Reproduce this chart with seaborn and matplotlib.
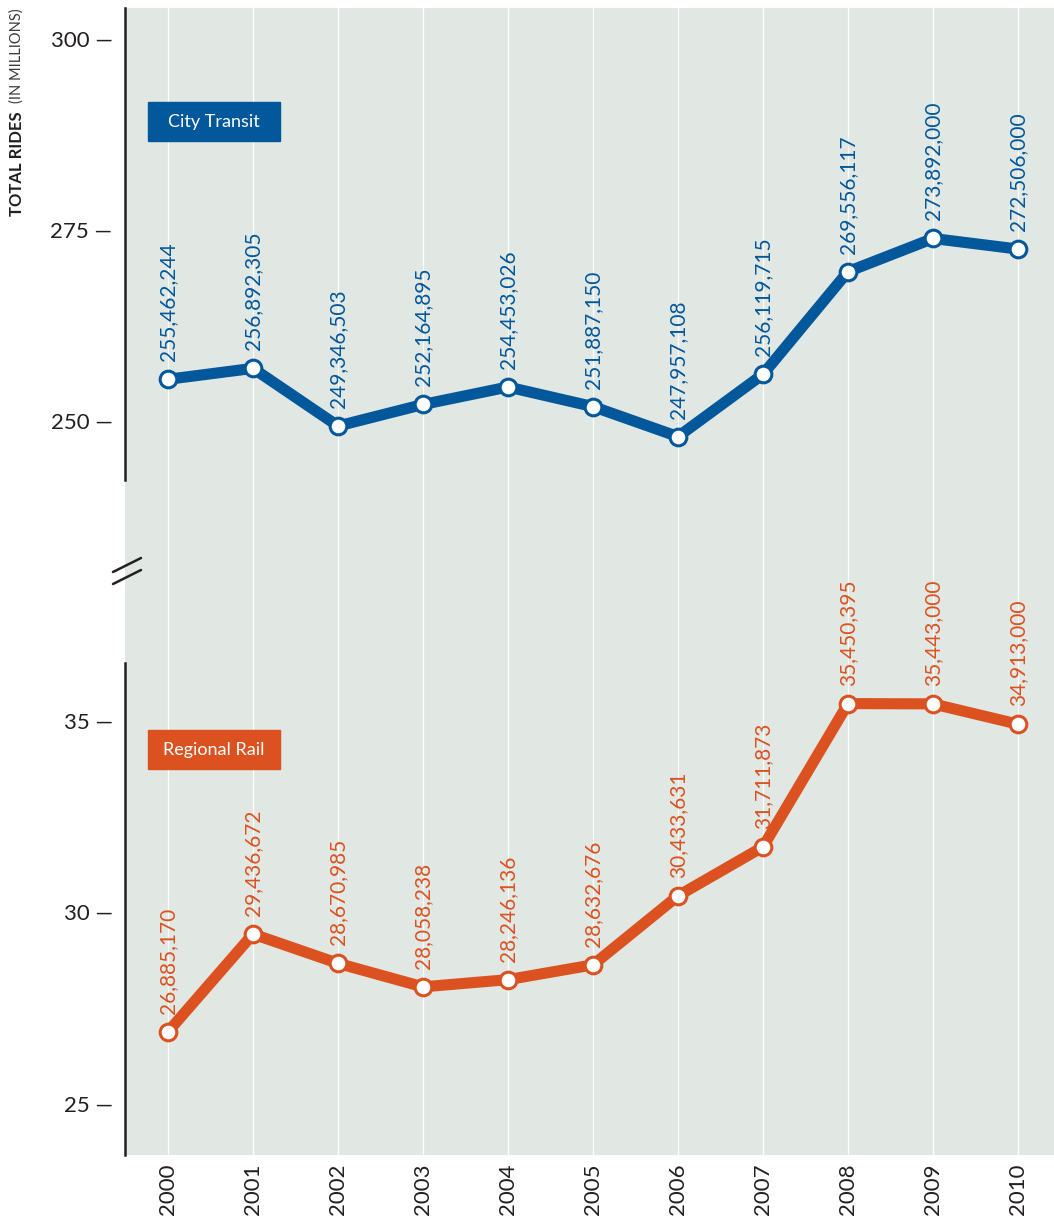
import matplotlib
matplotlib.use("Agg")
import matplotlib.pyplot as plt
from matplotlib.patches import Rectangle
from matplotlib.lines import Line2D
import seaborn as sns
import pandas as pd

# Annual ridership, 2000-2010
years = [2000, 2001, 2002, 2003, 2004, 2005, 2006, 2007, 2008, 2009, 2010]
city_transit = [255462244, 256892305, 249346503, 252164895, 254453026, 251887150,
                247957108, 256119715, 269556117, 273892000, 272506000]
regional_rail = [26885170, 29436672, 28670985, 28058238, 28246136, 28632676,
                 30433631, 31711873, 35450395, 35443000, 34913000]
top_ticks = [250, 275, 300]
bottom_ticks = [25, 30, 35]
series_names = ["City Transit", "Regional Rail"]

BLUE = "#02589b"
ORANGE = "#db5220"
BG = "#e1e7e3"
INK = "#231f20"

sns.set_style("white")
plt.rcParams["font.family"] = ["Lato", "DejaVu Sans"]

W, H = 1054, 1220
fig = plt.figure(figsize=(W / 100, H / 100), dpi=100)


def box(l, t, r, b):
    return [l / W, 1 - b / H, (r - l) / W, (b - t) / H]


xlim = (2000 - 43 / 85, 2010 + 36 / 85)

# shared shaded panel with vertical year guides
ax_bg = fig.add_axes(box(125, 8, 1054, 1155))
ax_bg.set_facecolor(BG)
ax_bg.set_xlim(*xlim)
ax_bg.set_ylim(0, 1)
ax_bg.set_xticks([])
ax_bg.set_yticks([])
for s in ax_bg.spines.values():
    s.set_visible(False)
for yr in years:
    ax_bg.axvline(yr, color="white", lw=0.9, zorder=0)

ax1 = fig.add_axes(box(125, 8, 1054, 480))
ax2 = fig.add_axes(box(125, 663, 1054, 1155))

df = pd.DataFrame({"year": years,
                   "city": [v / 1e6 for v in city_transit],
                   "rail": [v / 1e6 for v in regional_rail]})

panels = [
    (ax1, "city", city_transit, BLUE, (242.28, 304.06), top_ticks),
    (ax2, "rail", regional_rail, ORANGE, (23.67, 36.51), bottom_ticks),
]

for ax, col, raw, color, ylim, ticks in panels:
    ax.patch.set_alpha(0)
    sns.lineplot(data=df, x="year", y=col, ax=ax, color=color, lw=8,
                 marker="o", markersize=12, markerfacecolor="white",
                 markeredgecolor=color, markeredgewidth=2.2, zorder=3)
    ax.set_xlim(*xlim)
    ax.set_ylim(*ylim)
    ax.set_xlabel("")
    ax.set_ylabel("")
    for side in ("top", "right", "bottom"):
        ax.spines[side].set_visible(False)
    ax.spines["left"].set_color(INK)
    ax.spines["left"].set_linewidth(1.8)
    ax.set_yticks(ticks)
    ax.set_yticklabels([f"{t} \u2014" for t in ticks])
    ax.tick_params(axis="y", length=0, pad=9, labelsize=16, colors=INK)
    for x, v in zip(years, raw):
        ax.annotate(f"{v:,}", (x, v / 1e6), xytext=(0, 13),
                    textcoords="offset points", rotation=90,
                    ha="center", va="bottom", color=color, fontsize=15)

ax1.set_xticks([])
ax2.set_xticks(years)
ax2.set_xticklabels([str(y) for y in years], rotation=90)
ax2.tick_params(axis="x", length=0, pad=6, labelsize=16, colors=INK)

# series tags
for (top, name, color) in [(102, series_names[0], BLUE), (730, series_names[1], ORANGE)]:
    fig.patches.append(Rectangle((148 / W, 1 - (top + 39) / H), 132 / W, 39 / H,
                                 transform=fig.transFigure, color=color, zorder=5))
    fig.text(214 / W, 1 - (top + 19.5) / H, name, color="white", fontsize=13,
             ha="center", va="center", zorder=6)

# axis break marks
for y0 in (572, 584):
    fig.add_artist(Line2D([113 / W, 141 / W], [1 - y0 / H, 1 - (y0 - 14) / H],
                          transform=fig.transFigure, color=INK, lw=1.8))

# vertical axis title: bold lead, plain parenthetical
fig.text(17 / W, 1 - 216 / H, "TOTAL RIDES", rotation=90, fontsize=12,
         fontweight="bold", color=INK, ha="center", va="bottom")
fig.text(17 / W, 1 - 8 / H, "(IN MILLIONS)", rotation=90, fontsize=10.5,
         color="#3a3a3a", ha="center", va="top")

fig.savefig("out.png", dpi=100, facecolor="white")
